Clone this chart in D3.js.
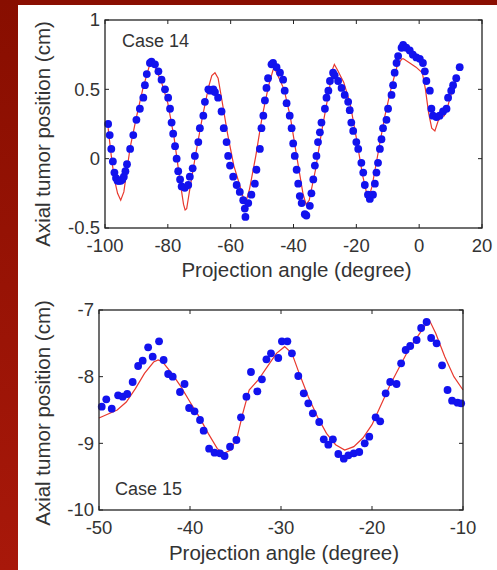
<!DOCTYPE html>
<html>
<head>
<meta charset="utf-8">
<script src="https://cdn.jsdelivr.net/npm/d3@7"></script>
<style>
  html, body { margin: 0; padding: 0; background: #fff; }
  svg { display: block; }
</style>
</head>
<body>
<script>
// Case 14: measured dots (angle, position) and model line
const case14Angle = [-99, -98.5, -98, -97.5, -97, -96.5, -96, -95.5, -95, -94.5, -94, -93.5, -93, -92, -91, -90, -88.9, -87.8, -87.3, -86.7, -85.7, -85.2, -84.1, -83, -82, -80.9, -79.9, -79.3, -78.8, -78.3, -77.7, -77.2, -76.7, -76.1, -75.6, -74.6, -73.5, -73, -72.1, -71.4, -70.3, -69.8, -68.7, -68.2, -67.1, -66.5, -65.5, -65, -64, -62.9, -62.2, -61.3, -60.8, -60.2, -59.2, -58.1, -57.1, -56, -55.5, -55.3, -54.4, -53.4, -52.3, -51.8, -50.7, -50.2, -49.6, -49.1, -48.6, -48.1, -47, -46.5, -45.4, -44.3, -43.3, -42.8, -42.2, -41.2, -40.6, -40.1, -39.6, -39, -38.5, -38, -37.4, -36.4, -35.9, -34.8, -34.3, -33.7, -33.2, -32.7, -32.2, -31.6, -31.1, -30, -29.5, -28.9, -28.4, -27.4, -26.9, -25.8, -24.7, -23.7, -22.6, -22.1, -21.6, -21, -20, -19.4, -18.4, -17.8, -17.3, -16.3, -15.7, -14.7, -14.1, -13.6, -13.1, -12.5, -12, -11.5, -10.4, -9.9, -8.8, -8.3, -7.8, -7.2, -6.7, -5.6, -5.1, -4.1, -3, -2, -0.9, 0.2, 1.2, 1.8, 2.3, 3.4, 3.9, 4.4, 5.5, 6.5, 7.6, 8.7, 9.2, 10.2, 10.8, 11.8, 12.9];
const case14Pos = [0.25, 0.17, 0.07, -0.02, -0.1, -0.14, -0.16, -0.16, -0.16, -0.15, -0.13, -0.09, -0.04, 0.07, 0.17, 0.28, 0.36, 0.44, 0.53, 0.61, 0.69, 0.7, 0.68, 0.63, 0.57, 0.5, 0.44, 0.36, 0.26, 0.18, 0.09, 0.0, -0.09, -0.15, -0.2, -0.21, -0.19, -0.13, -0.07, 0.02, 0.12, 0.22, 0.31, 0.41, 0.5, 0.49, 0.5, 0.48, 0.44, 0.34, 0.22, 0.12, 0.02, -0.05, -0.13, -0.19, -0.24, -0.3, -0.36, -0.42, -0.32, -0.26, -0.18, -0.08, 0.07, 0.22, 0.31, 0.42, 0.51, 0.58, 0.68, 0.69, 0.66, 0.62, 0.57, 0.49, 0.4, 0.31, 0.22, 0.11, 0.02, -0.08, -0.18, -0.27, -0.32, -0.4, -0.41, -0.34, -0.25, -0.15, -0.05, 0.02, 0.12, 0.19, 0.26, 0.36, 0.44, 0.49, 0.56, 0.62, 0.6, 0.56, 0.51, 0.46, 0.41, 0.35, 0.26, 0.2, 0.12, 0.07, -0.03, -0.1, -0.19, -0.26, -0.29, -0.26, -0.18, -0.1, -0.03, 0.07, 0.14, 0.22, 0.28, 0.36, 0.46, 0.53, 0.62, 0.69, 0.74, 0.8, 0.82, 0.8, 0.78, 0.75, 0.73, 0.72, 0.69, 0.63, 0.56, 0.49, 0.36, 0.31, 0.3, 0.31, 0.34, 0.36, 0.44, 0.49, 0.53, 0.58, 0.66];
const case14ModelAngle = [-99, -98, -97, -96, -95, -94, -93, -92, -90, -88, -86, -85, -84, -82, -80, -78, -76, -75, -74.5, -74, -73, -71, -69, -67, -66, -65, -64, -63, -61, -59, -57, -56, -55.5, -55, -54, -52, -50, -48, -46.5, -46, -45, -43, -41, -39, -37, -36, -35, -33, -31, -29, -27.5, -27, -26, -24, -22, -20, -18, -16.5, -16, -15, -13, -11, -9, -7, -5.5, -5, -3, -1, 1, 2, 3, 4, 5, 6, 7, 8, 9, 10, 11, 12];
const case14ModelPos = [0.22, 0.02, -0.15, -0.25, -0.3, -0.24, -0.08, 0.08, 0.3, 0.5, 0.66, 0.68, 0.66, 0.55, 0.4, 0.15, -0.18, -0.33, -0.37, -0.36, -0.22, 0.05, 0.3, 0.52, 0.6, 0.62, 0.58, 0.45, 0.18, -0.05, -0.2, -0.28, -0.32, -0.3, -0.22, 0.02, 0.3, 0.52, 0.64, 0.65, 0.6, 0.5, 0.3, 0.02, -0.25, -0.33, -0.3, -0.08, 0.2, 0.45, 0.65, 0.68, 0.64, 0.55, 0.4, 0.15, -0.12, -0.27, -0.28, -0.2, 0.05, 0.3, 0.5, 0.67, 0.72, 0.72, 0.69, 0.66, 0.62, 0.5, 0.33, 0.22, 0.2, 0.27, 0.3, 0.31, 0.37, 0.45, 0.52, 0.58];

// Case 15
const case15Angle = [-49.7, -49.2, -48.6, -47.9, -47.4, -46.9, -46.3, -45.7, -45.2, -44.6, -44.1, -43.4, -42.9, -42.4, -41.9, -41.1, -40.6, -40.1, -39.5, -38.9, -38.5, -37.9, -37.3, -36.7, -36.2, -35.6, -34.9, -34.4, -33.8, -33.3, -32.6, -32.1, -31.6, -31.1, -30.3, -29.9, -29.3, -28.8, -28.1, -27.5, -27.0, -26.5, -25.8, -25.3, -24.8, -24.3, -23.7, -23.1, -22.6, -22.0, -21.4, -20.8, -20.3, -19.6, -19.1, -18.5, -18.0, -17.3, -16.8, -16.3, -15.8, -15.1, -14.6, -14.0, -13.5, -12.9, -12.3, -11.7, -11.2, -10.6, -10.2];
const case15Pos = [-8.45, -8.34, -8.48, -8.28, -8.3, -8.26, -8.08, -7.84, -7.76, -7.56, -7.7, -7.47, -7.75, -7.96, -8.0, -8.23, -8.11, -8.47, -8.52, -8.65, -8.81, -9.08, -9.14, -9.15, -9.19, -9.05, -8.95, -8.61, -8.3, -7.93, -8.22, -8.04, -7.74, -7.65, -7.72, -7.47, -7.47, -7.65, -7.99, -8.25, -8.4, -8.55, -8.68, -8.94, -9.02, -8.94, -9.16, -9.23, -9.18, -9.15, -9.13, -9.0, -8.9, -8.61, -8.67, -8.25, -8.08, -8.11, -7.8, -7.6, -7.54, -7.45, -7.27, -7.18, -7.42, -7.5, -7.83, -8.2, -8.36, -8.39, -8.4];
const case15ModelAngle = [-50, -49, -48, -47, -46, -45, -44, -43.5, -43, -42, -41, -40, -39, -38, -37, -36.3, -35.5, -34.8, -34.2, -33.5, -32.5, -31.5, -30.5, -29.6, -28.8, -28, -27, -26, -25, -24, -23, -22, -21, -20, -19, -18, -17, -16, -15, -14, -13.7, -13, -12, -11, -10];
const case15ModelPos = [-8.62, -8.56, -8.5, -8.38, -8.18, -7.95, -7.78, -7.75, -7.78, -7.95, -8.15, -8.38, -8.6, -8.85, -9.08, -9.15, -9.1, -8.9, -8.55, -8.2, -8.05, -7.85, -7.65, -7.55, -7.65, -7.95, -8.3, -8.6, -8.85, -9.02, -9.1, -9.05, -8.92, -8.72, -8.42, -8.12, -7.86, -7.6, -7.4, -7.2, -7.15, -7.35, -7.7, -8.0, -8.2];

const xTicks14 = [-100, -80, -60, -40, -20, 0, 20];
const yTicks14 = [-0.5, 0, 0.5, 1];
const xTicks15 = [-50, -40, -30, -20, -10];
const yTicks15 = [-10, -9, -8, -7];

const W = 497, H = 570;
const FONT = 'Liberation Sans, Arial, sans-serif';
const TICK_FS = 18.5, LABEL_FS = 20.5, CASE_FS = 18;

const svg = d3.select('body').append('svg')
  .attr('width', W)
  .attr('height', H);

// Slide frame: dark red strip top and left
const defs = svg.append('defs');
const grad = defs.append('linearGradient')
  .attr('id', 'frameGrad')
  .attr('x1', 0).attr('y1', 0).attr('x2', 0).attr('y2', 1);
grad.append('stop').attr('offset', '0%').attr('stop-color', '#880e00');
grad.append('stop').attr('offset', '100%').attr('stop-color', '#a8180a');

svg.append('rect').attr('width', W).attr('height', H).attr('fill', '#fff');
svg.append('rect').attr('x', 0).attr('y', 0).attr('width', W).attr('height', 5).attr('fill', '#8a0f02');
svg.append('rect').attr('x', 0).attr('y', 0).attr('width', 18).attr('height', H).attr('fill', 'url(#frameGrad)');

function drawPanel(cfg) {
  const x = d3.scaleLinear().domain(cfg.xDomain).range([cfg.left, cfg.right]);
  const y = d3.scaleLinear().domain(cfg.yDomain).range([cfg.bottom, cfg.top]);
  const g = svg.append('g');

  // inward ticks on all four sides
  const tickLen = 4;
  cfg.xTicks.forEach(t => {
    g.append('line').attr('x1', x(t)).attr('x2', x(t))
      .attr('y1', cfg.bottom).attr('y2', cfg.bottom - tickLen)
      .attr('stroke', '#222').attr('stroke-width', 1);
    g.append('line').attr('x1', x(t)).attr('x2', x(t))
      .attr('y1', cfg.top).attr('y2', cfg.top + tickLen)
      .attr('stroke', '#222').attr('stroke-width', 1);
    g.append('text')
      .attr('x', x(t)).attr('y', cfg.bottom + 24)
      .attr('text-anchor', 'middle')
      .attr('font-family', FONT).attr('font-size', TICK_FS)
      .attr('fill', '#333')
      .text(t);
  });
  cfg.yTicks.forEach(t => {
    g.append('line').attr('x1', cfg.left).attr('x2', cfg.left + tickLen)
      .attr('y1', y(t)).attr('y2', y(t))
      .attr('stroke', '#222').attr('stroke-width', 1);
    g.append('line').attr('x1', cfg.right).attr('x2', cfg.right - tickLen)
      .attr('y1', y(t)).attr('y2', y(t))
      .attr('stroke', '#222').attr('stroke-width', 1);
    g.append('text')
      .attr('x', cfg.left - 5).attr('y', y(t)).attr('dy', '0.35em')
      .attr('text-anchor', 'end')
      .attr('font-family', FONT).attr('font-size', TICK_FS)
      .attr('fill', '#333')
      .text(t);
  });

  // model line
  const line = d3.line().x(d => x(d[0])).y(d => y(d[1]));
  g.append('path')
    .datum(d3.zip(cfg.modelX, cfg.modelY))
    .attr('d', line)
    .attr('fill', 'none')
    .attr('stroke', '#e8392e')
    .attr('stroke-width', 1.2);

  // measured dots
  g.selectAll('circle.dot')
    .data(d3.zip(cfg.dotX, cfg.dotY))
    .join('circle')
    .attr('class', 'dot')
    .attr('cx', d => x(d[0]))
    .attr('cy', d => y(d[1]))
    .attr('r', 3.9)
    .attr('fill', '#1212ee');

  // box
  g.append('rect')
    .attr('x', cfg.left).attr('y', cfg.top)
    .attr('width', cfg.right - cfg.left).attr('height', cfg.bottom - cfg.top)
    .attr('fill', 'none').attr('stroke', '#222').attr('stroke-width', 1.3);

  // case label
  g.append('text')
    .attr('x', cfg.caseX).attr('y', cfg.caseY)
    .attr('font-family', FONT).attr('font-size', CASE_FS)
    .attr('fill', '#333')
    .text(cfg.caseLabel);

  // axis titles
  g.append('text')
    .attr('x', (cfg.left + cfg.right) / 2 + 3).attr('y', cfg.bottom + cfg.xLabelGap)
    .attr('text-anchor', 'middle')
    .attr('font-family', FONT).attr('font-size', LABEL_FS)
    .attr('fill', '#333')
    .text('Projection angle (degree)');
  g.append('text')
    .attr('transform', `translate(50, ${cfg.yLabelMid}) rotate(-90)`)
    .attr('text-anchor', 'middle')
    .attr('font-family', FONT).attr('font-size', LABEL_FS)
    .attr('fill', '#333')
    .text('Axial tumor position (cm)');
}

drawPanel({
  xDomain: [-100, 20], yDomain: [-0.5, 1],
  left: 105, right: 482, top: 20, bottom: 228,
  xTicks: xTicks14, yTicks: yTicks14,
  dotX: case14Angle, dotY: case14Pos,
  modelX: case14ModelAngle, modelY: case14ModelPos,
  caseLabel: 'Case 14', caseX: 122, caseY: 47,
  yLabelMid: 134, xLabelGap: 49,
});

drawPanel({
  xDomain: [-50, -10], yDomain: [-10, -7],
  left: 99, right: 463, top: 310, bottom: 510,
  xTicks: xTicks15, yTicks: yTicks15,
  dotX: case15Angle, dotY: case15Pos,
  modelX: case15ModelAngle, modelY: case15ModelPos,
  caseLabel: 'Case 15', caseX: 115, caseY: 495,
  yLabelMid: 413, xLabelGap: 50,
});
</script>
</body>
</html>
